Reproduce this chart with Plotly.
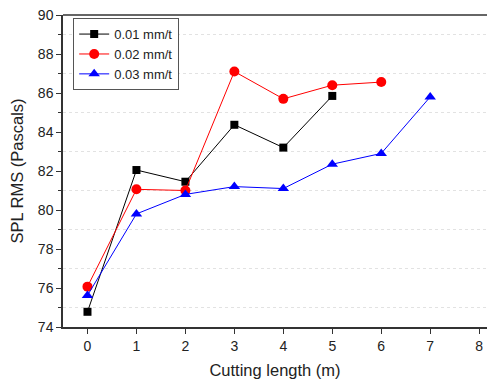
import plotly.graph_objects as go

x01 = [0, 1, 2, 3, 4, 5]
y01 = [74.78, 82.05, 81.45, 84.37, 83.2, 85.85]
x02 = [0, 1, 2, 3, 4, 5, 6]
y02 = [76.07, 81.06, 81.0, 87.1, 85.7, 86.4, 86.56]
x03 = [0, 1, 2, 3, 4, 5, 6, 7]
y03 = [75.62, 79.8, 80.8, 81.2, 81.1, 82.35, 82.9, 85.8]
names = ["0.01 mm/t", "0.02 mm/t", "0.03 mm/t"]

fig = go.Figure()
fig.add_trace(go.Scatter(x=x01, y=y01, name=names[0], mode="lines+markers",
                         line=dict(color="#000000", width=1),
                         marker=dict(symbol="square", size=8, color="#000000")))
fig.add_trace(go.Scatter(x=x02, y=y02, name=names[1], mode="lines+markers",
                         line=dict(color="#ff0000", width=1),
                         marker=dict(symbol="circle", size=10, color="#ff0000")))
fig.add_trace(go.Scatter(x=x03, y=y03, name=names[2], mode="lines+markers",
                         line=dict(color="#0000ff", width=1),
                         marker=dict(symbol="triangle-up", size=10, color="#0000ff")))

fig.add_shape(type="line", xref="paper", yref="paper", x0=0, x1=1, y0=1, y1=1,
              line=dict(color="#333333", width=1.5))

fig.update_layout(
    width=487, height=381,
    margin=dict(l=63, r=0, t=15, b=54),
    paper_bgcolor="white", plot_bgcolor="white",
    font=dict(family="Liberation Sans, Arial, sans-serif", size=14, color="#222222"),
    showlegend=True,
    legend=dict(x=0.024, y=0.99, xanchor="left", yanchor="top",
                bordercolor="#555555", borderwidth=1, bgcolor="white",
                font=dict(size=13), tracegroupgap=0, itemwidth=30),
    xaxis=dict(range=[-0.5, 8.16], dtick=1, tick0=0, showgrid=False, zeroline=False,
               showline=True, linecolor="#333333", linewidth=1.5,
               ticks="outside", ticklen=5, tickcolor="#333333",
               title=dict(text="Cutting length (m)", font=dict(size=16.5), standoff=12)),
    yaxis=dict(range=[74, 90], dtick=2, tick0=74, showgrid=False, zeroline=False,
               showline=True, linecolor="#333333", linewidth=1.5,
               ticks="outside", ticklen=5, tickcolor="#333333",
               minor=dict(dtick=1, ticks="outside", ticklen=3, tickcolor="#333333",
                          showgrid=True, gridcolor="#e2e2e2", griddash="dot", gridwidth=1),
               title=dict(text="SPL RMS (Pascals)", font=dict(size=16.5), standoff=10)),
)

fig.write_html("out.html", config={"displayModeBar": False},
               post_script="document.body.style.margin='0';")
